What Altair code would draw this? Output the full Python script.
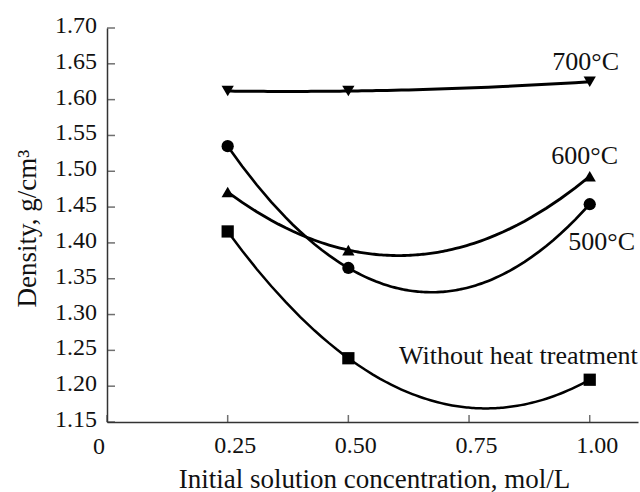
import altair as alt
import pandas as pd

# ---- data ----
conc = [0.25, 0.50, 1.00]
series_names = ["700°C", "600°C", "500°C", "Without heat treatment"]
d700 = [1.612, 1.612, 1.625]
d600 = [1.471, 1.390, 1.493]
d500 = [1.535, 1.365, 1.454]
d_none = [1.416, 1.239, 1.209]
y_ticks = [1.15, 1.20, 1.25, 1.30, 1.35, 1.40, 1.45, 1.50, 1.55, 1.60, 1.65, 1.70]
x_ticks = [0, 0.25, 0.50, 0.75, 1.00]

shapes = ["triangle-down", "triangle-up", "circle", "square"]
sizes = [150, 150, 66, 70]
widths = [3.0, 2.5, 1.8, 1.1]

rows = []
for name, vals in zip(series_names, [d700, d600, d500, d_none]):
    for c, v in zip(conc, vals):
        rows.append({"series": name, "conc": c, "density": v})
df = pd.DataFrame(rows)

FONT = "Liberation Serif"
AX = "#333333"
TXT = "#111111"

xscale = alt.Scale(domain=[0, 1.1], nice=False, zero=False)
yscale = alt.Scale(domain=[1.15, 1.70], nice=False, zero=False)

X = alt.X(
    "conc:Q", scale=xscale,
    axis=alt.Axis(
        values=x_ticks, ticks=False, grid=False, labels=False,
        domainColor=AX, domainWidth=1.5,
        title="Initial solution concentration, mol/L",
        titleFont=FONT, titleFontSize=27, titleColor=TXT, titleFontWeight="normal",
        titleY=65, titleBaseline="alphabetic", titleX=267,
    ),
)
Y = alt.Y(
    "density:Q", scale=yscale,
    axis=alt.Axis(
        values=y_ticks, ticks=False, grid=False, labels=False,
        domainColor=AX, domainWidth=1.5,
        title="Density, g/cm³",
        titleFont=FONT, titleFontSize=27, titleColor=TXT, titleFontWeight="normal",
        titleX=-66, titleY=200,
    ),
)

base = alt.Chart(df)

lines = base.transform_regression(
    "conc", "density", method="poly", order=2,
    groupby=["series"], extent=[0.25, 1.0]
).mark_line(color="black").encode(
    x=X, y=Y,
    detail="series:N",
    strokeWidth=alt.StrokeWidth("series:N", scale=alt.Scale(domain=series_names, range=widths), legend=None),
)

points = base.mark_point(filled=True, color="black", opacity=1).encode(
    x="conc:Q", y="density:Q",
    shape=alt.Shape("series:N", scale=alt.Scale(domain=series_names, range=shapes), legend=None),
    size=alt.Size("series:N", scale=alt.Scale(domain=series_names, range=sizes), legend=None),
)

# series labels anchored at the last point of each series
label_style = [
    ("700°C", "center", -4, -11.5),
    ("600°C", "center", -5, -12.7),
    ("500°C", "center", 12, 46),
    ("Without heat treatment", "right", 48, -16),
]
labels = []
last = df[df["conc"] == 1.0]
for name, align, dx, dy in label_style:
    sub = last[last["series"] == name]
    labels.append(
        alt.Chart(sub).mark_text(
            align=align, baseline="alphabetic", dx=dx, dy=dy,
            font=FONT, fontSize=26, color=TXT,
        ).encode(x="conc:Q", y="density:Q", text="series:N")
    )

# inward-pointing ticks
ytick_df = pd.DataFrame({"v": y_ticks})
xtick_df = pd.DataFrame({"v": x_ticks})
yt = alt.Chart(ytick_df).mark_tick(
    orient="horizontal", size=8, thickness=1.5, xOffset=4, color=AX
).encode(y="v:Q", x=alt.datum(0))
xt = alt.Chart(xtick_df).mark_tick(
    orient="vertical", size=7, thickness=1.5, yOffset=-3.5, color=AX
).encode(x="v:Q", y=alt.datum(1.15))

# tick labels drawn as text so every one of them shows
ylab = alt.Chart(ytick_df).transform_calculate(
    lab="format(datum.v, '.2f')"
).mark_text(
    align="right", baseline="alphabetic", dx=-10, dy=5,
    font=FONT, fontSize=24, color=TXT,
).encode(y="v:Q", x=alt.datum(0), text="lab:N")

xlab_main = alt.Chart(xtick_df).transform_filter("datum.v > 0").transform_calculate(
    lab="format(datum.v, '.2f')"
).mark_text(
    align="center", baseline="alphabetic", dx=7.5, dy=30.5,
    font=FONT, fontSize=24, color=TXT,
).encode(x="v:Q", y=alt.datum(1.15), text="lab:N")

xlab_zero = alt.Chart(xtick_df).transform_filter("datum.v == 0").transform_calculate(
    lab="'0'"
).mark_text(
    align="center", baseline="alphabetic", dx=-8, dy=31.5,
    font=FONT, fontSize=24, color=TXT,
).encode(x="v:Q", y=alt.datum(1.15), text="lab:N")

chart = alt.layer(lines, points, *labels, yt, xt, ylab, xlab_main, xlab_zero).properties(
    width=531, height=394,
    autosize=alt.AutoSizeParams(type="none"),
    padding={"left": 107, "top": 28, "right": 2, "bottom": 70},
    background="white",
).configure_view(stroke=None, clip=False)

chart.save("out.html", embed_options={"renderer": "svg", "actions": False})
